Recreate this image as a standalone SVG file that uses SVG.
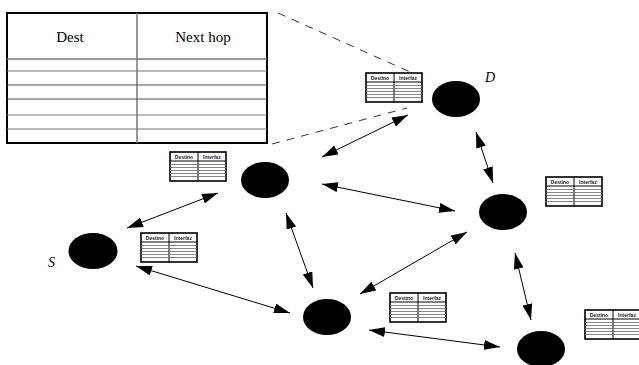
<svg xmlns="http://www.w3.org/2000/svg" xmlns:xlink="http://www.w3.org/1999/xlink" width="639" height="365" viewBox="0 0 639 365">
<style>
.node{fill:#000}
.edge{stroke:#000;stroke-width:1;fill:none;marker-start:url(#ah);marker-end:url(#ah)}
.dash{stroke:#000;stroke-width:0.8;stroke-dasharray:8 7;fill:none}
.big{font-family:"Liberation Serif",serif;font-size:15px;fill:#000;text-anchor:middle}
.lbl{font-family:"Liberation Serif",serif;font-style:italic;font-size:14px;fill:#000}
.st{font-family:"Liberation Sans",sans-serif;font-weight:bold;font-size:5px;fill:#223;text-anchor:middle}
.tl{stroke:#666;stroke-width:0.8}
</style>
<defs>
<marker id="ah" viewBox="0 0 16 10" refX="16" refY="5" markerWidth="16" markerHeight="10" markerUnits="userSpaceOnUse" orient="auto-start-reverse">
<path d="M0,0 L16,5 L0,10 Z" fill="#000"/>
</marker>
<g id="tbl">
<rect x="0" y="0" width="56" height="29" fill="#fff" stroke="#000" stroke-width="1.6"/>
<line x1="0" y1="9" x2="56" y2="9" stroke="#000" stroke-width="1"/>
<line x1="28" y1="0" x2="28" y2="29" stroke="#000" stroke-width="1"/>
<line class="tl" x1="0" y1="12.5" x2="56" y2="12.5"/>
<line class="tl" x1="0" y1="15.5" x2="56" y2="15.5"/>
<line class="tl" x1="0" y1="18.5" x2="56" y2="18.5"/>
<line class="tl" x1="0" y1="21.5" x2="56" y2="21.5"/>
<line class="tl" x1="0" y1="24.5" x2="56" y2="24.5"/>
<text class="st" x="14" y="6.5">Destino</text>
<text class="st" x="42" y="6.5">Interfaz</text>
</g>
</defs>
<rect width="639" height="365" fill="#fff"/>

<g id="routing-table">
<rect x="7" y="13" width="260" height="130" fill="#fff" stroke="#000" stroke-width="2"/>
<line x1="137" y1="13" x2="137" y2="143" stroke="#777" stroke-width="1.5"/>
<line x1="7" y1="59" x2="267" y2="59" stroke="#777" stroke-width="1.5"/>
<line x1="7" y1="71" x2="267" y2="71" stroke="#777" stroke-width="1.2"/>
<line x1="7" y1="85" x2="267" y2="85" stroke="#555" stroke-width="1.2"/>
<line x1="7" y1="99" x2="267" y2="99" stroke="#555" stroke-width="1.2"/>
<line x1="7" y1="115" x2="267" y2="115" stroke="#777" stroke-width="1.2"/>
<line x1="7" y1="129" x2="267" y2="129" stroke="#777" stroke-width="1.2"/>
<text class="big" x="70" y="42">Dest</text>
<text class="big" x="203" y="42">Next hop</text>
</g>

<g id="callout">
<line class="dash" x1="278" y1="13" x2="428" y2="80"/>
<line class="dash" x1="272" y1="144" x2="407" y2="108"/>
</g>

<g id="connectors">
<line class="edge" x1="322" y1="157" x2="408" y2="115"/>
<line class="edge" x1="476" y1="132" x2="493" y2="183"/>
<line class="edge" x1="322" y1="184" x2="455" y2="211"/>
<line class="edge" x1="127" y1="228" x2="218" y2="193"/>
<line class="edge" x1="286" y1="213" x2="313" y2="288"/>
<line class="edge" x1="136" y1="266" x2="290" y2="313"/>
<line class="edge" x1="360" y1="294" x2="467" y2="232"/>
<line class="edge" x1="515" y1="253" x2="531" y2="320"/>
<line class="edge" x1="369" y1="330" x2="500" y2="347"/>
</g>

<g id="node-D"><ellipse class="node" cx="456" cy="99" rx="24" ry="18"/><text class="lbl" x="485" y="82">D</text></g>
<g id="node-A"><ellipse class="node" cx="265" cy="180" rx="24" ry="18"/></g>
<g id="node-B"><ellipse class="node" cx="503" cy="212" rx="24" ry="18"/></g>
<g id="node-S"><ellipse class="node" cx="93" cy="251" rx="24.5" ry="18"/><text class="lbl" x="48" y="267">S</text></g>
<g id="node-C"><ellipse class="node" cx="327" cy="317" rx="24" ry="18"/></g>
<g id="node-E"><ellipse class="node" cx="541" cy="349" rx="24" ry="18"/></g>

<g id="table-D"><use xlink:href="#tbl" x="366" y="73"/></g>
<g id="table-A"><use xlink:href="#tbl" x="170" y="152"/></g>
<g id="table-B"><use xlink:href="#tbl" x="546" y="177"/></g>
<g id="table-S"><use xlink:href="#tbl" x="141" y="233"/></g>
<g id="table-C"><use xlink:href="#tbl" x="390" y="293"/></g>
<g id="table-E"><use xlink:href="#tbl" x="585" y="310"/></g>
</svg>
